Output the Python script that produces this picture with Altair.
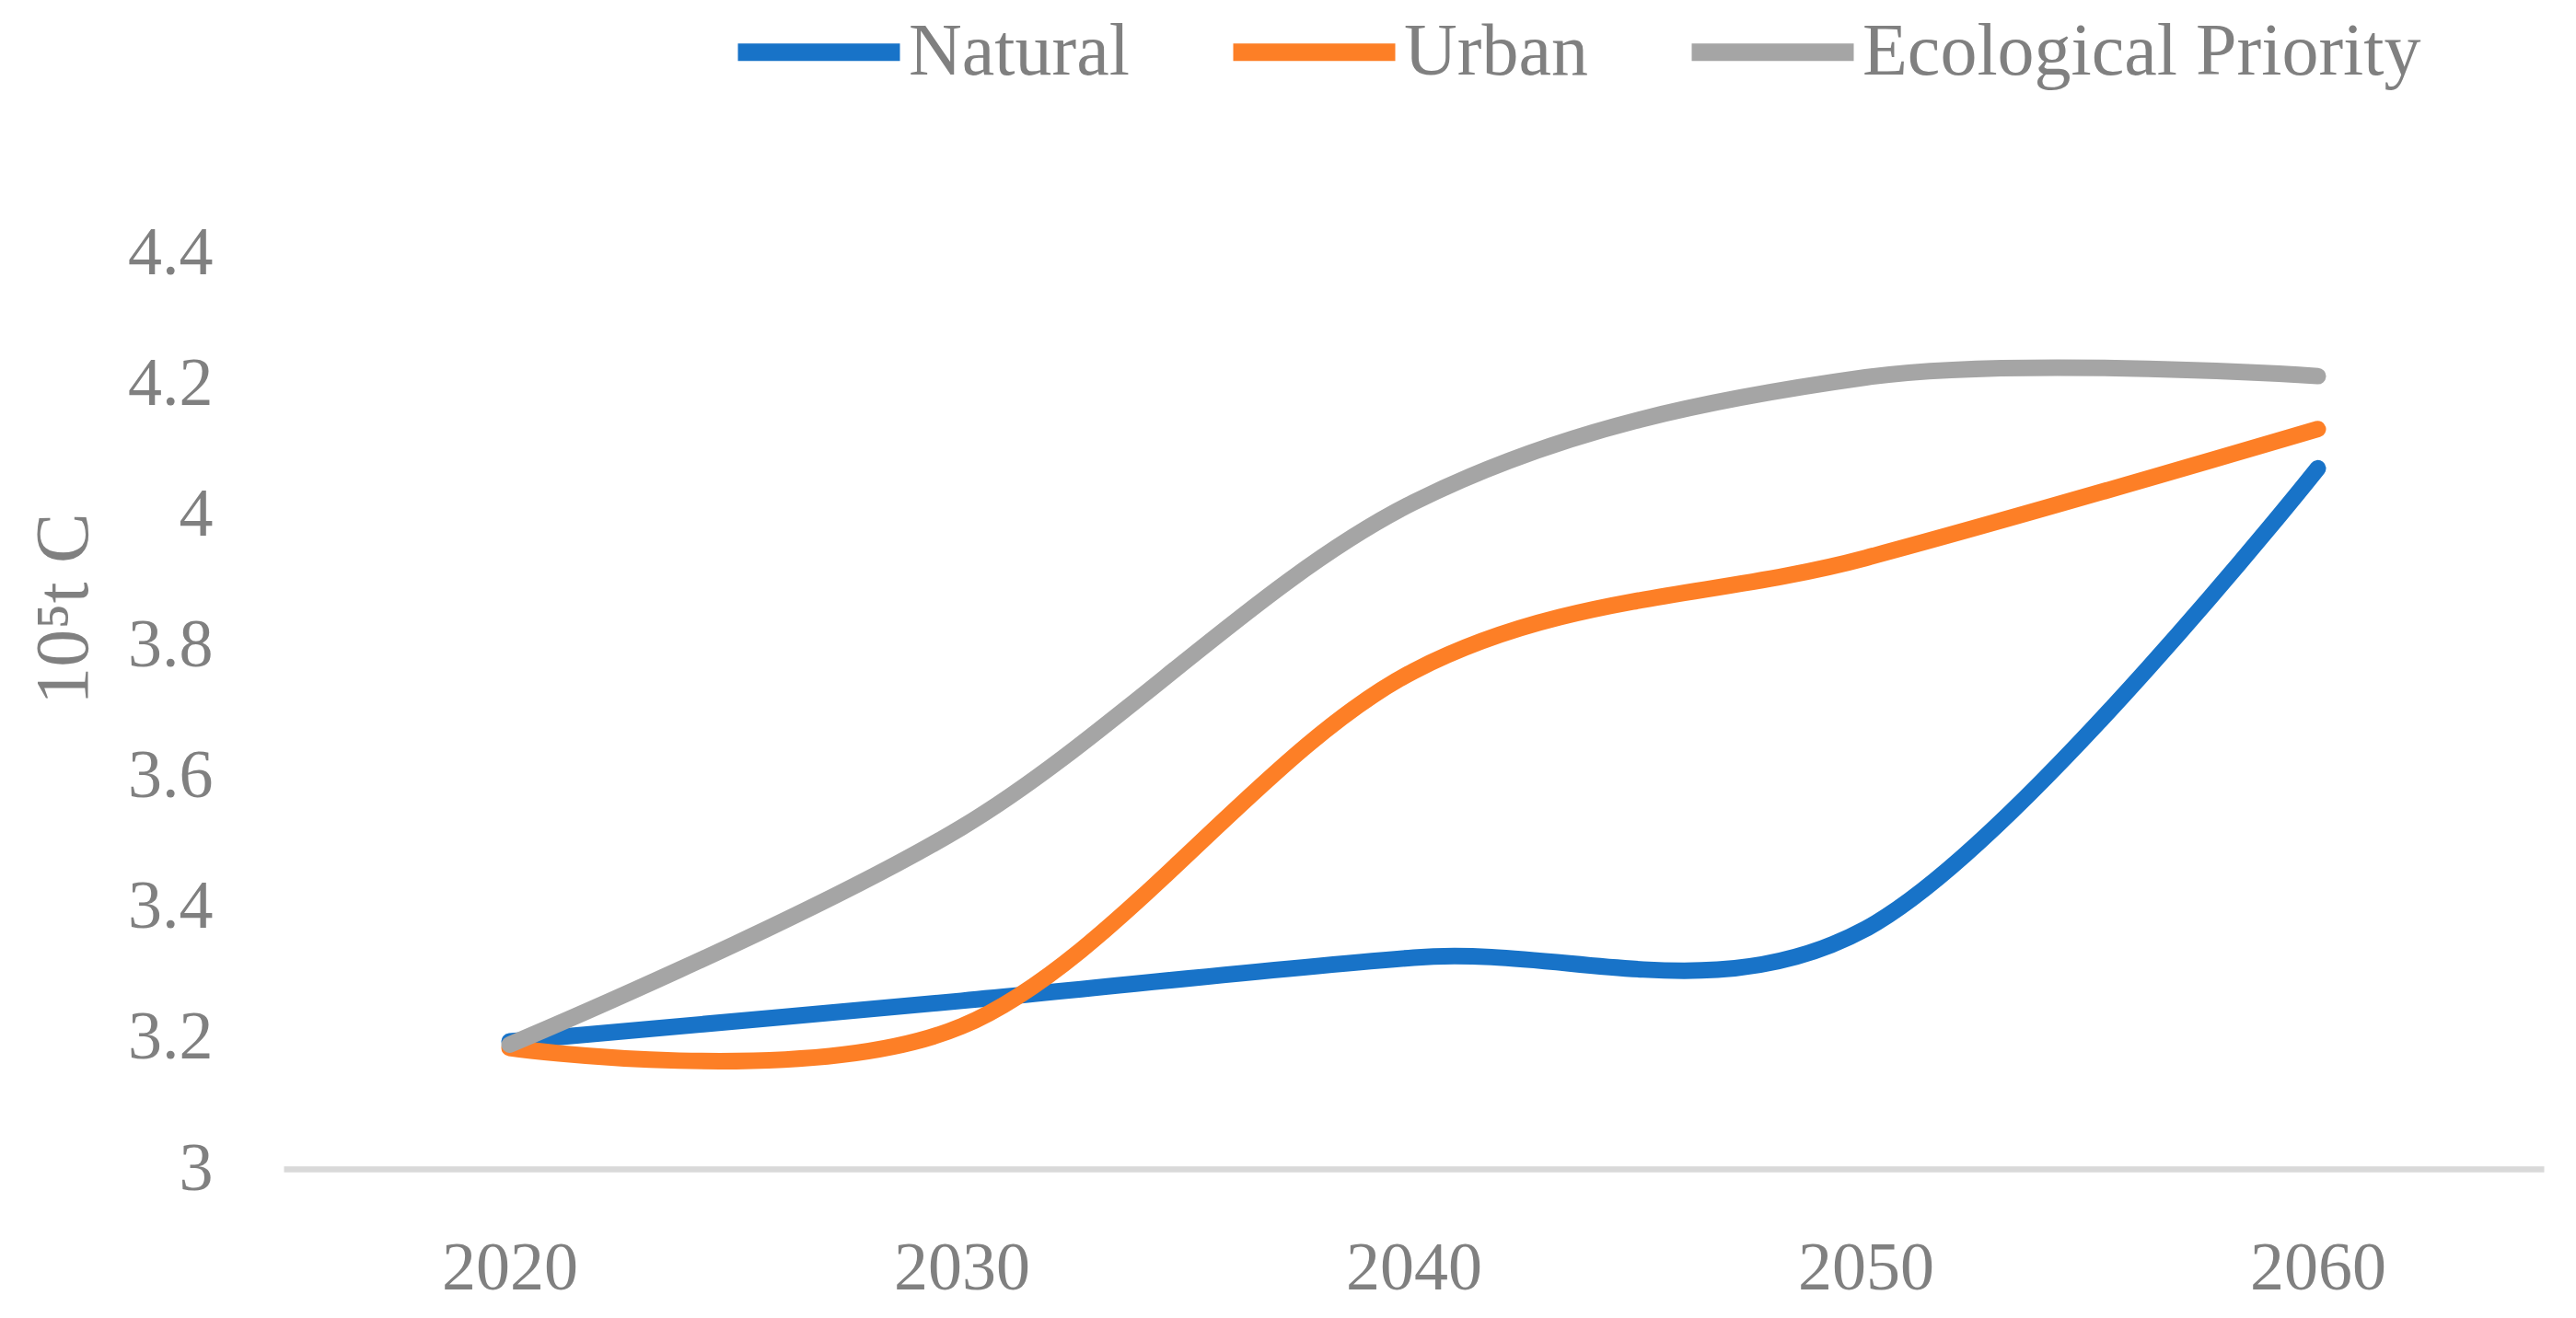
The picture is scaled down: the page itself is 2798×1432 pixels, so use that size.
import altair as alt
import pandas as pd

years = [2020, 2030, 2040, 2050, 2060]
natural = [3.195, 3.257, 3.323, 3.367, 4.071]
urban = [3.185, 3.218, 3.761, 3.934, 4.131]
ecological = [3.19, 3.522, 4.019, 4.21, 4.212]

series_names = ["Natural", "Urban", "Ecological Priority"]
series_colors = ["#1873C8", "#FD7F26", "#A5A5A5"]
y_ticks = [3, 3.2, 3.4, 3.6, 3.8, 4, 4.2, 4.4]

rows = []
for name, vals in zip(series_names, [natural, urban, ecological]):
    for yr, v in zip(years, vals):
        rows.append({"year": yr, "value": v, "scenario": name})
df = pd.DataFrame(rows)

FONT = "Liberation Serif"
GREY = "#808080"

chart = alt.Chart(df).mark_line(
    interpolate="cardinal", strokeWidth=18, strokeCap="round", strokeJoin="round"
).encode(
    x=alt.X("year:Q",
            scale=alt.Scale(domain=[2015, 2065], nice=False, zero=False),
            axis=alt.Axis(values=years, format="d", title=None, grid=False,
                          ticks=False, tickSize=0, labelPadding=72,
                          labelFont=FONT, labelFontSize=74, labelColor=GREY,
                          domainColor="#D9D9D9", domainWidth=6.5)),
    y=alt.Y("value:Q",
            scale=alt.Scale(domain=[3, 4.4], nice=False, zero=False),
            axis=alt.Axis(values=y_ticks, format=".1~f", title="10\u2075t C",
                          grid=False, domain=False, ticks=False, tickSize=0,
                          labelPadding=77, labelFont=FONT, labelFontSize=74,
                          labelColor=GREY, labelBaseline="middle",
                          titleFont=FONT, titleFontSize=82, titleColor=GREY,
                          titleFontWeight="normal", titleAngle=270,
                          titleAlign="center", titleBaseline="alphabetic",
                          titleX=-214, titleY=386)),
    color=alt.Color("scenario:N",
                    sort=series_names,
                    scale=alt.Scale(domain=series_names, range=series_colors),
                    legend=alt.Legend(title=None, orient="none", direction="horizontal",
                                      legendX=484, legendY=-316,
                                      symbolType="stroke", symbolSize=30976,
                                      symbolStrokeWidth=19, labelOffset=0,
                                      columnPadding=74, padding=0, labelLimit=0,
                                      labelFont=FONT, labelFontSize=80,
                                      labelColor=GREY)),
    order=alt.Order("scenario:N"),
).properties(
    width=2455, height=995,
    autosize=alt.AutoSizeParams(type="none"),
    padding={"left": 300, "top": 267, "right": 20, "bottom": 150},
).configure_view(stroke=None)

chart.save("out.html", embed_options={"renderer": "svg", "actions": False})
